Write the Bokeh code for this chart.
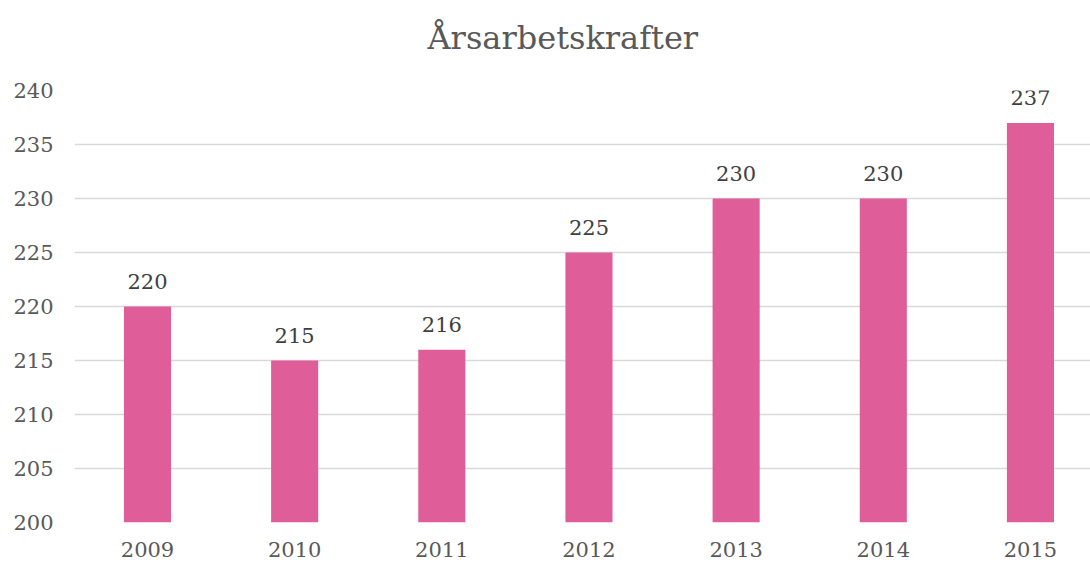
from bokeh.plotting import figure
from bokeh.models import ColumnDataSource, Range1d, FixedTicker, LabelSet, Title
from bokeh.core.properties import value
from bokeh.embed import file_html
from bokeh.resources import INLINE

years = [2009, 2010, 2011, 2012, 2013, 2014, 2015]
values = [220, 215, 216, 225, 230, 230, 237]
y_ticks = [200, 205, 210, 215, 220, 225, 230, 235, 240]

FONT = "DejaVu Serif"

src = ColumnDataSource(dict(x=years, top=values, label=[str(v) for v in values]))

p = figure(width=1090, height=563, output_backend="svg", toolbar_location=None,
           x_range=Range1d(2008.504, 2015.408), y_range=Range1d(200, 240),
           min_border_left=74, min_border_right=0, min_border_top=89,
           min_border_bottom=41)

p.title.text = "Årsarbetskrafter"
p.title.align = "left"
p.title.vertical_align = "top"
p.title.text_font = FONT
p.title.text_font_size = "32px"
p.title.text_font_style = "normal"
p.title.text_color = "#595959"
p.title.offset = 353
p.title.standoff = 36

# invisible spacer between the title and the plot area
spacer = Title(text=" ", text_font_size="10px", text_color="#FFFFFF", standoff=1)
p.add_layout(spacer, "above")

p.vbar(x="x", top="top", bottom=200, width=0.32, source=src,
       fill_color="#DF5E99", line_color=None)

labels = LabelSet(x="x", y="top", text="label", source=src, text_align="center",
                  text_baseline="bottom", y_offset=18, text_font=value(FONT),
                  text_font_size=value("21px"), text_color="#404040")
p.add_layout(labels)

p.xaxis.ticker = FixedTicker(ticks=years)
p.yaxis.ticker = FixedTicker(ticks=y_ticks)
for ax in (p.xaxis, p.yaxis):
    ax.axis_line_color = None
    ax.major_tick_line_color = None
    ax.minor_tick_line_color = None
    ax.major_tick_out = 0
    ax.major_tick_in = 0
    ax.major_label_text_font = FONT
    ax.major_label_text_font_size = "21px"
    ax.major_label_text_color = "#595959"
p.xaxis.major_label_standoff = 19
p.yaxis.major_label_standoff = 21

p.xgrid.grid_line_color = None
p.ygrid.grid_line_color = "#D9D9D9"
p.ygrid.grid_line_width = 1.5
p.outline_line_color = None

open("out.html", "w").write(file_html(p, INLINE))
